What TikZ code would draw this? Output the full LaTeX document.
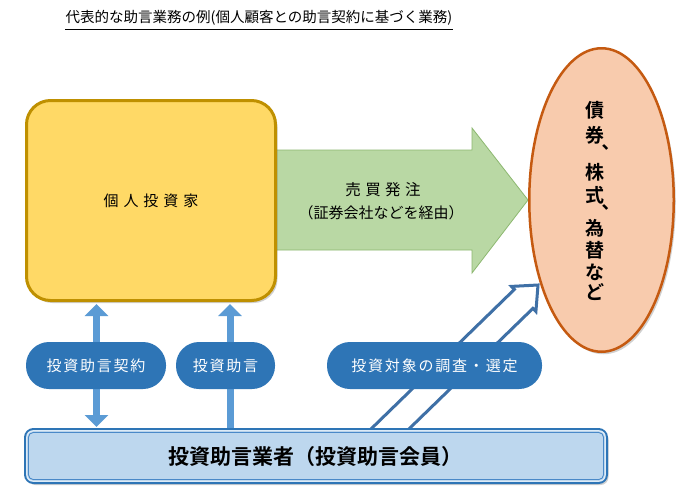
\documentclass[tikz,border=0pt]{standalone}
\usepackage{fontspec}
\newfontfamily\jp{Noto Sans CJK JP}[BoldFont={Noto Sans CJK JP Bold}]
\usetikzlibrary{shapes.geometric,shadows,calc,arrows.meta}
\definecolor{ylwfill}{HTML}{FFD966}
\definecolor{ylwdraw}{HTML}{BF9000}
\definecolor{grnfill}{HTML}{B9D8A4}
\definecolor{grndraw}{HTML}{8DB870}
\definecolor{elfill}{HTML}{F8CBAD}
\definecolor{eldraw}{HTML}{C55A11}
\definecolor{pillblue}{HTML}{2E75B6}
\definecolor{arrblue}{HTML}{5B9BD5}
\definecolor{barfill}{HTML}{BDD7EE}
\definecolor{barlight}{HTML}{DDEBF7}
\definecolor{barmid}{HTML}{4A89C8}
\definecolor{diagblue}{HTML}{3F70A6}
\newcommand{\vcomma}{\kern-0.76em\smash{\raisebox{-0.98em}{︑}}}
\tikzset{
  shd/.style={drop shadow={shadow xshift=2pt,shadow yshift=-2.5pt,opacity=.3,fill=black!60}},
  investorbox/.style={rectangle,rounded corners=24pt,fill=ylwfill,draw=ylwdraw,line width=3pt,shd,
    font=\jp\fontsize{15}{18}\selectfont\addfontfeature{LetterSpace=33}},
  assetell/.style={ellipse,fill=elfill,draw=eldraw,line width=2.5pt,shd},
  asschar/.style={font=\jp\bfseries\fontsize{19}{20}\selectfont,inner sep=0pt},
  pillbox/.style={rectangle,rounded corners=23pt,fill=pillblue,text=white,inner sep=0pt,
    font=\jp\fontsize{15}{18}\selectfont\addfontfeature{LetterSpace=12}},
  advbar/.style={rectangle,rounded corners=8pt,fill=barfill,draw=pillblue,line width=3pt,shd},
  barrow/.style={draw=arrblue,line width=7pt,
    arrows={-{Triangle[width=23pt 0 0,length=12pt 0 0]}}},
  barrowboth/.style={draw=arrblue,line width=7pt,
    arrows={{Triangle[width=23pt 0 0,length=12pt 0 0]}-{Triangle[width=23pt 0 0,length=12pt 0 0]}}},
  greenarrow/.style={fill=grnfill,draw=grndraw,line width=0.8pt},
  diagarrow/.style={draw=diagblue,fill=white,line width=3pt,line join=miter},
  txt/.style={inner sep=0pt}
}
\begin{document}
\begin{tikzpicture}[x=1pt,y=-1pt]
\useasboundingbox[fill=white] (0,0) rectangle (700,496);

% title
\node[txt,font=\jp\fontsize{14.5}{16}\selectfont] (title) at (259,18) {代表的な助言業務の例(個人顧客との助言契約に基づく業務)};
\draw[line width=0.9pt] ([yshift=-4pt]title.south west) -- ([yshift=-4pt]title.south east);

% green order arrow
\draw[greenarrow] (270,150) -- (472,150) -- (472,128) -- (528,200) -- (472,273) -- (472,250) -- (270,250) -- cycle;
\node[txt,font=\jp\fontsize{15.5}{18}\selectfont\addfontfeature{LetterSpace=28}] (order1) at (383,190) {売買発注};
\node[txt,font=\jp\fontsize{15}{18}\selectfont] (order2) at (381,213) {（証券会社などを経由）};

% investor
\node[investorbox,minimum width=249pt,minimum height=200pt] (investor) at (151,200.5) {個人投資家};

% assets ellipse
\node[assetell,minimum width=144.5pt,minimum height=303.5pt] (assets) at (601.5,200) {};
\node[asschar] (c1) at (595,110) {債};
\node[asschar,anchor=base west] (c2) at (585.5,142.2) {券\vcomma};
\node[asschar] (c4) at (595,172) {株};
\node[asschar,anchor=base west] (c5) at (585.5,202.2) {式\vcomma};
\node[asschar] (c7) at (595,228) {為};
\node[asschar] (c8) at (595,250) {替};
\node[asschar] (c9) at (595,272) {な};
\node[asschar] (c10) at (595,292) {ど};

% diagonal hollow arrow
\draw[diagarrow] (363.9,435.9) -- (514.4,289.4) -- (511.5,286.4) -- (538,285) -- (535.9,311.5) -- (532.9,308.4) -- (382.3,454.9);

% advisor bar
\node[advbar,minimum width=581pt,minimum height=53pt] (bar) at (316,456) {};
\draw[draw=barlight,line width=1.4pt,rounded corners=6pt] ([shift={(2.9,2.9)}]bar.north west) rectangle ([shift={(-2.9,-2.9)}]bar.south east);
\draw[draw=barmid,line width=0.9pt,rounded corners=5pt] ([shift={(4.4,4.4)}]bar.north west) rectangle ([shift={(-4.4,-4.4)}]bar.south east);
\node[txt,font=\jp\bfseries\fontsize{21}{22}\selectfont] (bartext) at (315,457) {投資助言業者（投資助言会員）};

% vertical arrows
\coordinate (a1) at (96.5,365);
\coordinate (a2) at (230,365);
\draw[barrowboth,shorten <=2pt,shorten >=1pt] (investor.south -| a1) -- (bar.north -| a1);
\draw[barrow,shorten >=2pt] (bar.north -| a2) -- (investor.south -| a2);

% pills
\node[pillbox,minimum width=140pt,minimum height=47pt] (p1) at (96,365.5) {投資助言契約};
\node[pillbox,minimum width=99pt,minimum height=47pt] (p2) at (225.5,365.5) {投資助言};
\node[pillbox,minimum width=215pt,minimum height=47pt] (p3) at (434.5,365.5) {投資対象の調査・選定};
\end{tikzpicture}
\end{document}
